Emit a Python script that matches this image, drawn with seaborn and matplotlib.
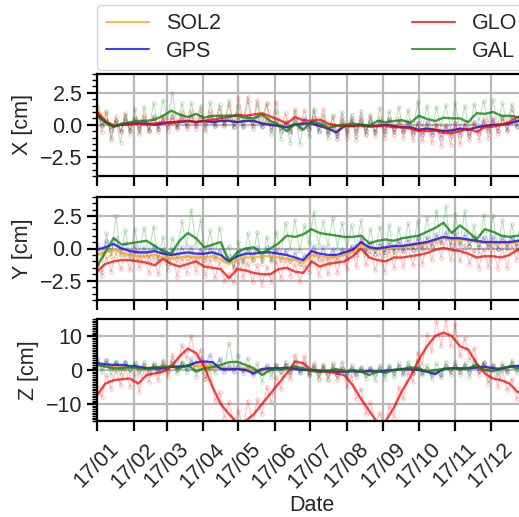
import numpy as np
import pandas as pd
import matplotlib
matplotlib.use("Agg")
import matplotlib.pyplot as plt
import matplotlib.dates as mdates
from matplotlib.ticker import MultipleLocator
import seaborn as sns

# ---------------- data ----------------
series_names = ["SOL2", "GPS", "GLO", "GAL"]
series_colors = ["orange", "blue", "red", "green"]
components = ["X", "Y", "Z"]

# weekly mean values (53 weeks starting 2017-01-01)
SOL2_X_w = [1.2, 0.3, 0.0, 0.0, 0.1, 0.15, 0.1, 0.05, 0.1, 0.2, 0.25, 0.3, 0.25, 0.3, 0.25, 0.3, 0.35, 0.25, 0.3, 0.3,
            0.15, 0.05, -0.05, -0.15, 0.05, 0.1, 0.1, -0.05, -0.2, -0.5, -0.1, -0.1, 0.0, -0.1, -0.1, 0.0, -0.1, -0.15,
            -0.2, -0.35, -0.3, -0.35, -0.45, -0.4, -0.3, -0.35, -0.2, -0.1, 0.0, 0.05, 0.15, 0.3, 0.45]
GPS_X_w = [0.8, 0.2, -0.1, 0.0, 0.1, 0.1, 0.1, 0.0, 0.1, 0.2, 0.2, 0.3, 0.2, 0.3, 0.2, 0.3, 0.3, 0.2, 0.3, 0.3,
           0.1, 0.0, -0.1, -0.2, 0.0, 0.1, 0.1, -0.1, -0.3, -0.6, -0.1, -0.1, 0.0, -0.1, -0.1, 0.0, -0.1, -0.2,
           -0.2, -0.4, -0.3, -0.4, -0.5, -0.45, -0.3, -0.4, -0.2, -0.1, 0.0, 0.0, 0.1, 0.3, 0.4]
GLO_X_w = [1.0, 0.3, -0.1, 0.0, 0.0, 0.1, 0.0, 0.1, 0.2, 0.1, 0.3, 0.3, 0.2, 0.3, 0.4, 0.5, 0.6, 0.8, 0.7, 0.8,
           0.9, 0.65, 0.4, 0.1, 0.6, 0.35, 0.3, 0.4, 0.1, -0.05, -0.1, -0.1, -0.1, -0.15, -0.1, -0.1, -0.2, -0.2,
           -0.3, -0.5, -0.5, -0.45, -0.65, -0.65, -0.5, -0.3, -0.55, -0.2, -0.15, 0.0, 0.2, 0.6, 0.7]
GAL_X_w = [0.7, 0.2, -0.2, 0.1, 0.2, 0.3, 0.3, 0.4, 0.7, 1.1, 0.8, 0.6, 0.85, 0.55, 0.7, 0.7, 0.7, 0.7, 0.55, 0.5,
           0.8, 0.3, 0.0, -0.5, 0.1, -0.4, 0.25, 0.1, -0.25, -0.1, 0.0, 0.1, 0.0, -0.1, 0.3, 0.2, 0.3, 0.35, 0.15,
           0.7, 0.45, 0.3, 0.55, 0.5, 0.5, 0.2, 0.9, 0.85, 1.0, 0.7, 0.7, 0.6, 0.5]

SOL2_Y_w = [-0.5, -0.3, -0.1, -0.3, -0.5, -0.6, -0.6, -0.5, -0.7, -0.8, -0.7, -0.6, -0.7, -0.7, -0.6, -0.8, -1.2,
            -0.9, -0.7, -0.7, -0.6, -0.6, -0.7, -0.8, -0.9, -1.1, -0.5, -0.6, -0.7, -0.7, -0.5, -0.3, 0.3, 0.0, -0.1,
            0.0, 0.1, 0.1, 0.2, 0.3, 0.4, 0.6, 0.8, 0.7, 0.7, 0.6, 0.5, 0.4, 0.4, 0.4, 0.4, 0.5, 0.6]
GPS_Y_w = [-0.1, 0.1, 0.35, 0.0, -0.2, -0.3, -0.3, -0.2, -0.4, -0.5, -0.4, -0.3, -0.4, -0.4, -0.3, -0.5, -1.0,
           -0.6, -0.4, -0.4, -0.3, -0.3, -0.4, -0.5, -0.7, -0.9, -0.2, -0.4, -0.5, -0.5, -0.3, -0.1, 0.5, 0.1, 0.0,
           0.1, 0.2, 0.2, 0.3, 0.4, 0.5, 0.7, 0.9, 0.8, 0.8, 0.7, 0.6, 0.5, 0.5, 0.5, 0.5, 0.6, 0.7]
GLO_Y_w = [-1.8, -1.2, -1.0, -0.9, -0.9, -1.0, -1.1, -1.3, -0.8, -1.2, -1.4, -1.2, -1.0, -1.4, -1.5, -1.6, -2.3,
           -1.6, -1.7, -1.9, -2.0, -2.0, -1.6, -1.5, -1.8, -1.9, -1.0, -1.4, -1.2, -1.1, -1.0, -0.6, 0.0, -0.7, -0.9,
           -1.0, -0.7, -0.7, -0.6, -0.5, -0.35, -0.1, 0.05, -0.1, -0.2, -0.4, -0.7, -0.6, -0.6, -0.7, -0.5, -0.1, -0.1]
GAL_Y_w = [-1.4, -0.3, 0.8, 0.3, 0.4, 0.5, 0.6, 0.2, -0.2, -0.4, 0.6, 1.2, 0.8, 0.1, 0.3, 0.5, -1.0, -0.3, 0.0,
           0.1, -0.4, 0.0, 0.4, 1.0, 0.9, 1.1, 1.5, 1.2, 1.1, 1.0, 0.9, 0.9, 1.0, 0.4, 0.6, 0.7, 0.6, 0.8, 0.9, 1.0,
           1.3, 1.6, 2.0, 1.2, 1.8, 1.3, 0.7, 1.5, 1.3, 1.0, 0.9, 1.0, 1.0]

SOL2_Z_w = [1.5, 1.3, 1.0, 1.0, 1.0, 0.8, 0.6, 0.6, 0.7, 0.9, 0.9, 1.0, 1.2, 1.3, 1.2, 0.6, 0.5, 0.6, 0.4, -0.3,
            0.2, 0.4, 0.5, 0.5, 0.4, 0.1, 0.0, -0.2, -0.3, -0.2, -0.4, -0.3, -0.4, -0.5, -0.4, -0.3, 0.0, 0.2, 0.3,
            0.2, -0.2, -0.5, 0.3, 0.5, 0.5, 0.5, 0.8, 0.7, 0.4, 0.4, 0.9, 1.0, 1.3]
GPS_Z_w = [2.0, 1.7, 1.5, 1.5, 1.2, 1.0, 0.5, 0.5, 0.5, 1.0, 1.0, 1.2, 2.2, 2.5, 2.3, 0.3, 0.2, 0.3, 0.0, -1.0,
           0.3, 0.5, 0.5, 0.6, 0.3, 0.0, 0.0, -0.2, -0.3, -0.5, -0.5, -0.4, -0.5, -0.3, -0.5, -0.2, 0.0, 0.2, 0.2,
           0.0, -0.5, -1.2, 0.3, 0.5, 0.5, 0.5, 0.7, 1.0, 0.5, 0.3, 1.0, 1.2, 1.6]
GLO_Z_w = [-7.5, -4.0, -3.0, -2.7, -2.5, -4.0, -1.5, -1.0, -0.5, 1.0, 4.0, 6.3, 5.0, 1.0, -5.0, -10.0, -13.0, -15.5,
           -15.0, -13.0, -10.0, -7.0, -4.0, -1.0, 2.5, 2.0, 0.0, -0.5, -0.5, -1.0, -1.5, -4.5, -8.5, -12.0, -15.5,
           -15.0, -11.0, -6.0, -2.0, 3.0, 7.0, 10.0, 11.0, 10.0, 7.0, 6.0, 2.0, -1.0, -2.5, -3.0, -4.0, -6.5, -7.0]
GAL_Z_w = [1.5, 1.0, 0.5, 0.5, 0.8, 0.5, 0.5, 0.8, 1.0, 1.0, 0.5, 1.5, -0.5, 0.5, 0.8, 1.5, 2.3, 2.4, 1.5, 0.5,
           -1.5, 0.0, 0.2, 0.5, 1.0, 0.5, -0.3, -0.5, -0.3, 0.3, -0.5, 0.0, -0.5, -1.5, -0.3, -0.8, 0.0, 0.3, 0.8,
           0.5, -0.5, 0.0, 0.3, 0.5, 0.3, 0.5, 1.5, 0.0, -0.3, 0.5, 1.0, 0.5, 1.0]

# individual solutions (every 4th day from 2017-01-01)
SOL2_X_d = [1.2, 0.1, 0.3, -0.3, 0.3, -0.4, 0.4, -0.3, 0.4, -0.2,
            0.5, -0.3, 0.6, -0.2, 0.5, -0.1, 0.6, -0.1, 0.7, 0.0,
            0.6, 0.0, 0.7, 0.1, 0.6, 0.0, 0.8, 0.0, 0.7, -0.1,
            0.7, -0.1, 0.6, 0.0, 0.6, -0.1, 0.5, -0.3, 0.3, -0.4,
            0.3, -0.5, 0.5, -0.2, 0.4, -0.2, 0.6, -0.4, 0.2, -0.6,
            0.0, -0.9, 0.2, -0.4, 0.3, -0.4, 0.3, -0.4, 0.2, -0.5,
            0.2, -0.4, 0.3, -0.5, 0.2, -0.5, 0.1, -0.6, 0.0, -0.7,
            0.0, -0.7, -0.1, -0.9, 0.0, -0.8, 0.0, -0.7, -0.1, -0.8,
            0.1, -0.6, 0.2, -0.4, 0.3, -0.4, 0.4, -0.3, 0.6, -0.1,
            0.9]
GPS_X_d = [0.9, 0.0, 0.4, -0.4, 0.3, -0.5, 0.5, -0.4, 0.5, -0.3,
           0.4, -0.4, 0.5, -0.3, 0.5, -0.2, 0.6, -0.2, 0.6, -0.1,
           0.7, -0.1, 0.6, 0.0, 0.7, -0.1, 0.7, -0.1, 0.8, -0.2,
           0.6, -0.2, 0.7, -0.1, 0.7, -0.2, 0.4, -0.4, 0.3, -0.5,
           0.2, -0.6, 0.4, -0.3, 0.5, -0.3, 0.5, -0.5, 0.3, -0.7,
           -0.1, -1.1, 0.3, -0.5, 0.4, -0.5, 0.4, -0.5, 0.3, -0.6,
           0.3, -0.5, 0.4, -0.6, 0.3, -0.6, 0.2, -0.7, 0.1, -0.8,
           0.1, -0.8, 0.0, -1.0, 0.0, -0.9, 0.1, -0.8, 0.0, -0.9,
           0.2, -0.7, 0.3, -0.5, 0.4, -0.5, 0.5, -0.4, 0.6, -0.2,
           0.8]
GLO_X_d = [1.5, -0.6, 0.9, -1.0, 0.65, -0.6, 0.8, -0.7, 0.55, -0.7,
           0.75, -0.5, 0.7, -0.55, 0.7, -0.45, 0.9, -0.3, 1.0, -0.3,
           1.05, -0.3, 1.15, -0.3, 1.05, 0.05, 1.3, 0.05, 1.6, 0.1,
           2.1, 0.25, 2.2, 0.15, 1.9, 0.5, 1.7, 0.05, 1.8, -0.2,
           0.9, -0.45, 1.2, -0.25, 1.15, -0.3, 1.05, -0.1, 1.2, -0.6,
           0.6, -0.85, 0.6, -1.0, 0.5, -1.2, 0.7, -0.8, 0.6, -0.9,
           0.5, -1.0, 0.55, -0.8, 0.5, -1.0, 0.35, -1.2, 0.15, -1.3,
           0.2, -1.45, 0.1, -1.65, -0.15, -1.55, 0.1, -1.5, 0.2, -1.2,
           0.15, -1.2, 0.5, -1.0, 0.55, -0.7, 0.7, -0.5, 1.2, 0.2,
           1.15]
GAL_X_d = [1.3, -0.1, 1.1, -1.2, 0.4, -1.4, 0.9, -0.5, 1.25, -0.6,
           1.4, -0.5, 1.7, -0.3, 1.9, 0.4, 2.5, -0.2, 1.7, 0.0,
           1.7, 0.15, 1.5, -0.45, 1.75, -0.1, 1.6, 0.1, 1.9, -0.2,
           1.5, -0.1, 1.85, -0.3, 1.6, -0.1, 1.6, -0.7, 1.1, -1.1,
           0.2, -1.4, 1.0, -1.5, 0.4, -0.9, 1.25, -0.6, 0.8, -1.05,
           0.75, -0.7, 1.0, -0.75, 0.8, -0.85, 1.1, -0.75, 0.8, -0.6,
           1.3, -0.7, 1.05, -0.3, 1.4, -0.45, 1.15, -0.55, 1.8, -0.2,
           1.45, -0.55, 1.4, -0.2, 1.55, -0.3, 1.7, -0.4, 1.45, -0.6,
           1.6, 0.3, 1.85, 0.15, 1.9, 0.0, 1.7, 0.1, 1.6, -0.1,
           1.15]

SOL2_Y_d = [-0.2, -0.8, 0.2, -0.6, 0.3, -0.6, 0.0, -0.8, -0.1, -0.9,
            -0.2, -1.1, -0.2, -1.0, -0.3, -1.1, -0.3, -1.1, -0.2, -1.0,
            -0.2, -1.1, -0.3, -1.1, -0.2, -1.0, -0.4, -1.2, -0.9, -1.5,
            -0.5, -1.2, -0.3, -1.1, -0.2, -1.0, -0.2, -1.0, -0.3, -1.1,
            -0.4, -1.2, -0.6, -1.4, -0.8, -0.9, -0.1, -1.0, -0.2, -1.1,
            -0.3, -1.1, -0.2, -0.9, 0.0, -0.6, 0.6, -0.3, 0.3, -0.4,
            0.3, -0.3, 0.4, -0.3, 0.5, -0.2, 0.6, -0.1, 0.7, 0.0,
            0.8, 0.1, 1.0, 0.3, 1.1, 0.3, 1.0, 0.3, 0.9, 0.2,
            0.8, 0.1, 0.8, 0.0, 0.7, 0.0, 0.7, 0.1, 0.8, 0.2,
            1.0]
GPS_Y_d = [0.3, -0.4, 0.6, -0.2, 0.8, -0.3, 0.4, -0.5, 0.2, -0.7,
           0.1, -0.8, 0.2, -0.7, 0.0, -0.9, 0.0, -0.8, 0.1, -0.7,
           0.1, -0.8, 0.0, -0.9, 0.1, -0.8, -0.1, -0.9, -0.6, -1.4,
           -0.2, -1.0, 0.0, -0.9, 0.1, -0.8, 0.1, -0.8, 0.0, -0.9,
           -0.1, -1.0, -0.3, -1.2, -0.5, -0.6, 0.2, -0.8, 0.1, -0.9,
           0.0, -0.9, 0.0, -0.7, 0.2, -0.5, 0.9, -0.3, 0.5, -0.4,
           0.4, -0.3, 0.5, -0.2, 0.6, -0.2, 0.7, -0.1, 0.8, 0.0,
           0.9, 0.2, 1.1, 0.4, 1.3, 0.3, 1.2, 0.3, 1.1, 0.2,
           1.0, 0.1, 0.9, 0.1, 0.9, 0.0, 0.9, 0.1, 0.9, 0.2,
           1.1]
GLO_Y_d = [-1.2, -2.1, -0.6, -1.8, -0.3, -1.6, -0.4, -1.7, -0.2, -1.5,
           -0.5, -1.9, -0.6, -2.0, -0.2, -1.7, -0.5, -2.2, -0.7, -1.9,
           -0.6, -1.8, -0.5, -2.1, -0.8, -2.3, -1.0, -2.5, -2.0, -2.7,
           -1.0, -2.2, -1.1, -2.6, -1.3, -2.8, -1.4, -2.6, -1.0, -2.3,
           -0.8, -2.1, -1.2, -2.6, -1.3, -1.8, -0.4, -2.1, -0.8, -2.0,
           -0.5, -1.9, -0.3, -1.6, 0.1, -1.4, 0.5, -1.3, -0.2, -1.7,
           -0.3, -1.8, -0.1, -1.5, 0.0, -1.4, 0.1, -1.3, 0.2, -1.2,
           0.3, -0.9, 0.6, -0.7, 0.8, -0.9, 0.5, -1.0, 0.3, -1.2,
           -0.1, -1.5, 0.0, -1.4, 0.2, -1.6, 0.1, -1.5, 0.3, -0.9,
           0.6]
GAL_Y_d = [-0.8, -1.8, 1.2, -0.6, 2.5, -0.5, 1.4, -0.6, 1.5, -0.3,
           1.6, -0.4, 1.7, -0.9, 0.9, -1.2, 0.8, -0.5, 2.1, 0.2,
           3.0, 0.3, 2.2, -0.5, 1.4, -0.6, 1.6, -0.4, 0.2, -1.6,
           0.5, -1.1, 1.2, -0.8, 1.3, -1.2, 0.9, -1.0, 1.3, -0.5,
           2.0, 0.0, 2.2, -0.2, 1.8, 0.4, 2.8, 0.3, 2.1, 0.2,
           2.4, 0.0, 2.0, -0.1, 1.8, 0.0, 2.2, -0.6, 1.5, -0.4,
           1.7, -0.5, 1.8, -0.5, 1.6, -0.2, 2.0, 0.0, 2.1, 0.1,
           2.4, 0.3, 2.9, 0.5, 3.3, 0.0, 2.7, 0.4, 2.9, 0.2,
           1.8, -0.4, 2.6, 0.2, 2.5, 0.0, 2.2, -0.2, 1.9, -0.1,
           2.6]

SOL2_Z_d = [2.3, 0.8, 2.0, 0.3, 1.8, 0.2, 1.7, 0.0, 1.5, 0.0,
            1.2, -0.2, 1.3, -0.1, 1.4, 0.0, 1.6, 0.2, 1.7, 0.3,
            1.8, 0.5, 2.0, 0.5, 2.0, 0.4, 1.5, -0.2, 1.2, -0.3,
            1.3, -0.4, 1.1, -1.0, 0.4, -0.7, 1.1, -0.2, 1.2, -0.2,
            1.3, -0.4, 1.2, -0.4, 0.9, -0.6, 0.7, -0.9, 0.5, -1.0,
            0.4, -1.1, 0.3, -1.2, 0.4, -1.0, 0.3, -1.1, 0.3, -1.2,
            0.4, -1.0, 0.6, -0.8, 0.9, -0.6, 1.0, -0.5, 0.8, -0.8,
            0.2, -1.2, -0.2, -1.3, 1.1, -0.4, 1.2, -0.3, 1.3, -0.3,
            1.4, -0.1, 1.6, 0.0, 1.3, -0.4, 1.1, -0.2, 1.6, 0.3,
            2.0]
GPS_Z_d = [3.0, 1.0, 2.8, 0.5, 2.5, 0.6, 2.4, 0.3, 2.0, 0.0,
           1.5, -0.5, 1.4, -0.4, 1.5, -0.2, 2.0, 0.0, 2.2, 0.2,
           2.3, 1.0, 3.5, 1.5, 4.5, 1.3, 3.0, -0.5, 1.2, -0.6,
           1.3, -0.8, 0.9, -1.6, -0.2, -0.6, 1.4, -0.4, 1.5, -0.3,
           1.6, -0.6, 1.3, -0.6, 1.0, -1.0, 0.9, -1.2, 0.8, -1.2,
           0.6, -1.4, 0.5, -1.5, 0.6, -1.3, 0.5, -1.4, 0.6, -1.3,
           0.5, -1.2, 0.8, -1.0, 1.2, -0.8, 1.2, -0.8, 1.0, -1.0,
           0.3, -1.6, -0.3, -2.2, 1.3, -0.7, 1.5, -0.5, 1.5, -0.5,
           1.7, -0.3, 2.0, 0.0, 1.5, -0.5, 1.3, -0.4, 2.0, 0.3,
           2.6]
GLO_Z_d = [-5.0, -8.0, -1.5, -5.5, 0.0, -4.5, 0.5, -5.0, -1.0, -6.5,
           0.5, -3.5, 1.5, -3.0, 2.5, -2.0, 4.5, 0.5, 7.5, 3.5,
           10.0, 2.0, 6.0, -2.5, 0.5, -9.0, -6.5, -14.0, -9.5, -16.0,
           -12.0, -17.0, -9.0, -16.0, -8.5, -13.0, -5.0, -9.5, -2.0, -5.5,
           1.5, -2.5, 4.5, 0.0, 4.0, -1.5, 2.0, -2.5, 1.5, -3.0,
           1.5, -3.0, 0.5, -5.0, -1.5, -8.5, -5.5, -13.0, -9.5, -16.0,
           -12.5, -17.0, -10.5, -14.0, -5.0, -8.5, -0.5, -3.5, 5.0, 1.5,
           10.5, 5.5, 14.5, 7.0, 15.0, 7.0, 13.5, 4.0, 9.5, 3.0,
           6.5, -1.5, 2.0, -4.0, 0.5, -5.0, 0.0, -6.0, -2.5, -8.5,
           -4.0]
GAL_Z_d = [3.5, -0.5, 3.0, -1.5, 2.5, -1.5, 2.5, -1.0, 2.0, -1.5,
           2.5, -1.5, 2.0, -1.0, 3.0, -0.5, 3.0, -1.0, 2.5, -0.5,
           3.5, -2.0, 1.0, -2.5, 2.0, -1.0, 3.5, 0.5, 8.0, 1.0,
           4.5, 0.0, 3.5, -1.0, 2.0, -3.5, 0.5, -2.0, 1.5, -1.5,
           2.5, -1.5, 3.0, -1.0, 2.5, -1.5, 1.5, -2.5, 1.5, -2.5,
           2.0, -1.5, 2.5, -2.5, 1.5, -2.0, 1.0, -2.5, 0.5, -3.0,
           1.5, -2.5, 1.5, -2.0, 2.0, -1.5, 2.5, -1.0, 3.0, -1.5,
           1.5, -2.5, 2.0, -1.5, 2.5, -1.5, 2.5, -1.5, 2.0, -2.0,
           3.0, 0.0, 2.5, -2.5, 1.5, -2.0, 2.0, -1.0, 3.0, -1.0,
           2.5]

weekly = {
    "X": [SOL2_X_w, GPS_X_w, GLO_X_w, GAL_X_w],
    "Y": [SOL2_Y_w, GPS_Y_w, GLO_Y_w, GAL_Y_w],
    "Z": [SOL2_Z_w, GPS_Z_w, GLO_Z_w, GAL_Z_w],
}
daily = {
    "X": [SOL2_X_d, GPS_X_d, GLO_X_d, GAL_X_d],
    "Y": [SOL2_Y_d, GPS_Y_d, GLO_Y_d, GAL_Y_d],
    "Z": [SOL2_Z_d, GPS_Z_d, GLO_Z_d, GAL_Z_d],
}
ylims = {"X": (-4, 4), "Y": (-4, 4), "Z": (-15, 15)}
ymajor = {"X": 2.5, "Y": 2.5, "Z": 10}

# ---------------- style ----------------
sns.set_style("ticks")
plt.rcParams["font.family"] = ["Liberation Sans", "DejaVu Sans"]
FS = 15.5

fig = plt.figure(figsize=(5.19, 5.17), dpi=100)
W_PX, H_PX = 519.0, 517.0
left = 97 / W_PX
width = 429 / W_PX
boxes = [(73.5, 176), (197, 300), (319, 421)]
axes = []
for i, (top, bot) in enumerate(boxes):
    rect = [left, 1 - bot / H_PX, width, (bot - top) / H_PX]
    ax = fig.add_axes(rect, sharex=axes[0] if axes else None)
    axes.append(ax)

for ax, comp in zip(axes, components):
    for name, col, dvals in zip(series_names, series_colors, daily[comp]):
        ddates = pd.date_range("2017-01-01", periods=len(dvals), freq="4D")
        sns.lineplot(x=ddates, y=dvals, ax=ax, color=col, lw=0.8, alpha=0.25,
                     marker="o", markersize=2.5, markerfacecolor="none",
                     markeredgecolor=col, markeredgewidth=0.7, legend=False)
    for name, col, wvals in zip(series_names, series_colors, weekly[comp]):
        wdates = pd.date_range("2017-01-01", periods=len(wvals), freq="7D")
        sns.lineplot(x=wdates, y=wvals, ax=ax, color=col, lw=1.7, alpha=0.75,
                     label=name, legend=False)
    ax.set_ylim(*ylims[comp])
    ax.yaxis.set_major_locator(MultipleLocator(ymajor[comp]))
    ax.yaxis.set_minor_locator(MultipleLocator(0.5))
    ax.set_ylabel(f"{comp} [cm]", fontsize=FS, labelpad=5)
    ax.set_xlabel("")
    ax.grid(True, which="major", color="#b8b8b8", lw=1.6)
    ax.set_axisbelow(True)
    for sp in ax.spines.values():
        sp.set_color("black")
        sp.set_linewidth(1.6)
    ax.tick_params(axis="both", which="major", length=7, width=1.6,
                   labelsize=FS, direction="out", color="black")
    ax.tick_params(axis="y", which="minor", length=3.5, width=1.0, color="black")

axes[0].set_xlim(pd.Timestamp("2017-01-01"), pd.Timestamp("2017-12-31"))
axes[0].xaxis.set_major_locator(mdates.MonthLocator())
axes[0].xaxis.set_major_formatter(mdates.DateFormatter("%y/%m"))
for ax in axes[:2]:
    ax.tick_params(axis="x", labelbottom=False)
axes[2].tick_params(axis="x", labelrotation=45, pad=6)
axes[2].set_xlabel("Date", fontsize=FS, labelpad=2)

h, l = axes[0].get_legend_handles_labels()
leg = axes[0].legend(h, l, loc="lower left", bbox_to_anchor=(0, 1.03, 1, 0.2),
                     mode="expand", ncol=2, borderaxespad=0, fontsize=FS,
                     labelspacing=0.3, frameon=True, fancybox=True)
leg.get_frame().set_edgecolor("#cccccc")
for line in leg.get_lines():
    line.set_linewidth(1.5)

fig.savefig("out.png", dpi=100)
